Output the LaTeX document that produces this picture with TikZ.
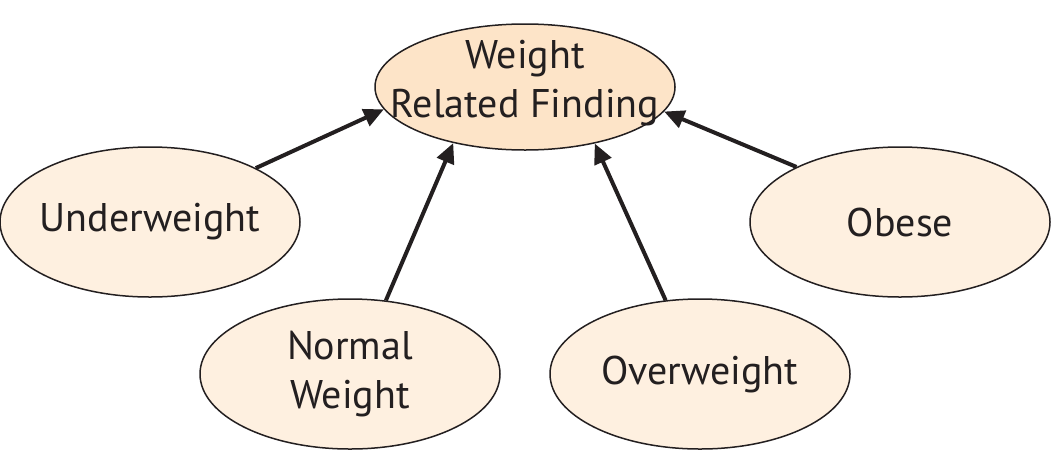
\documentclass[tikz,border=0pt]{standalone}
\usepackage{fontspec}
\setmainfont{PT Sans}
\usetikzlibrary{shapes.geometric,arrows.meta}
\definecolor{topfill}{HTML}{FDE4C8}
\definecolor{leaffill}{HTML}{FEF0E0}
\definecolor{ink}{HTML}{231F20}
\tikzset{
  bubble/.style={ellipse, draw=ink, line width=0.75pt, fill=leaffill, inner sep=0pt,
    minimum width=150pt, minimum height=75pt},
  topbubble/.style={bubble, fill=topfill, minimum height=63pt},
  txt/.style={text=ink, align=center, inner sep=0pt, font=\fontsize{20}{24.5}\selectfont},
  link/.style={draw=ink, line width=2pt, -{Triangle[length=10pt,width=9pt]}}
}
\begin{document}
\begin{tikzpicture}[x=0.5pt,y=-0.5pt]
\useasboundingbox (0,0) rectangle (1052,450);
\node[topbubble, label={[txt, yshift=2pt]center:{Weight\\Related Finding}}] (top) at (525,87) {};
\node[bubble, label={[txt]center:{Underweight}}] (under) at (150,222) {};
\node[bubble, label={[txt]center:{Normal\\Weight}}] (normal) at (350,374) {};
\node[bubble, label={[txt]center:{Overweight}}] (over) at (700,374) {};
\node[bubble, label={[txt]center:{Obese}}] (obese) at (900,222) {};
\draw[link] (under.27.6) -- (top.189.7);
\draw[link] (normal.64.7) -- (top.218.1);
\draw[link] (over.115.3) -- (top.321.9);
\draw[link] (obese.152.4) -- (top.350.3);
\end{tikzpicture}
\end{document}
